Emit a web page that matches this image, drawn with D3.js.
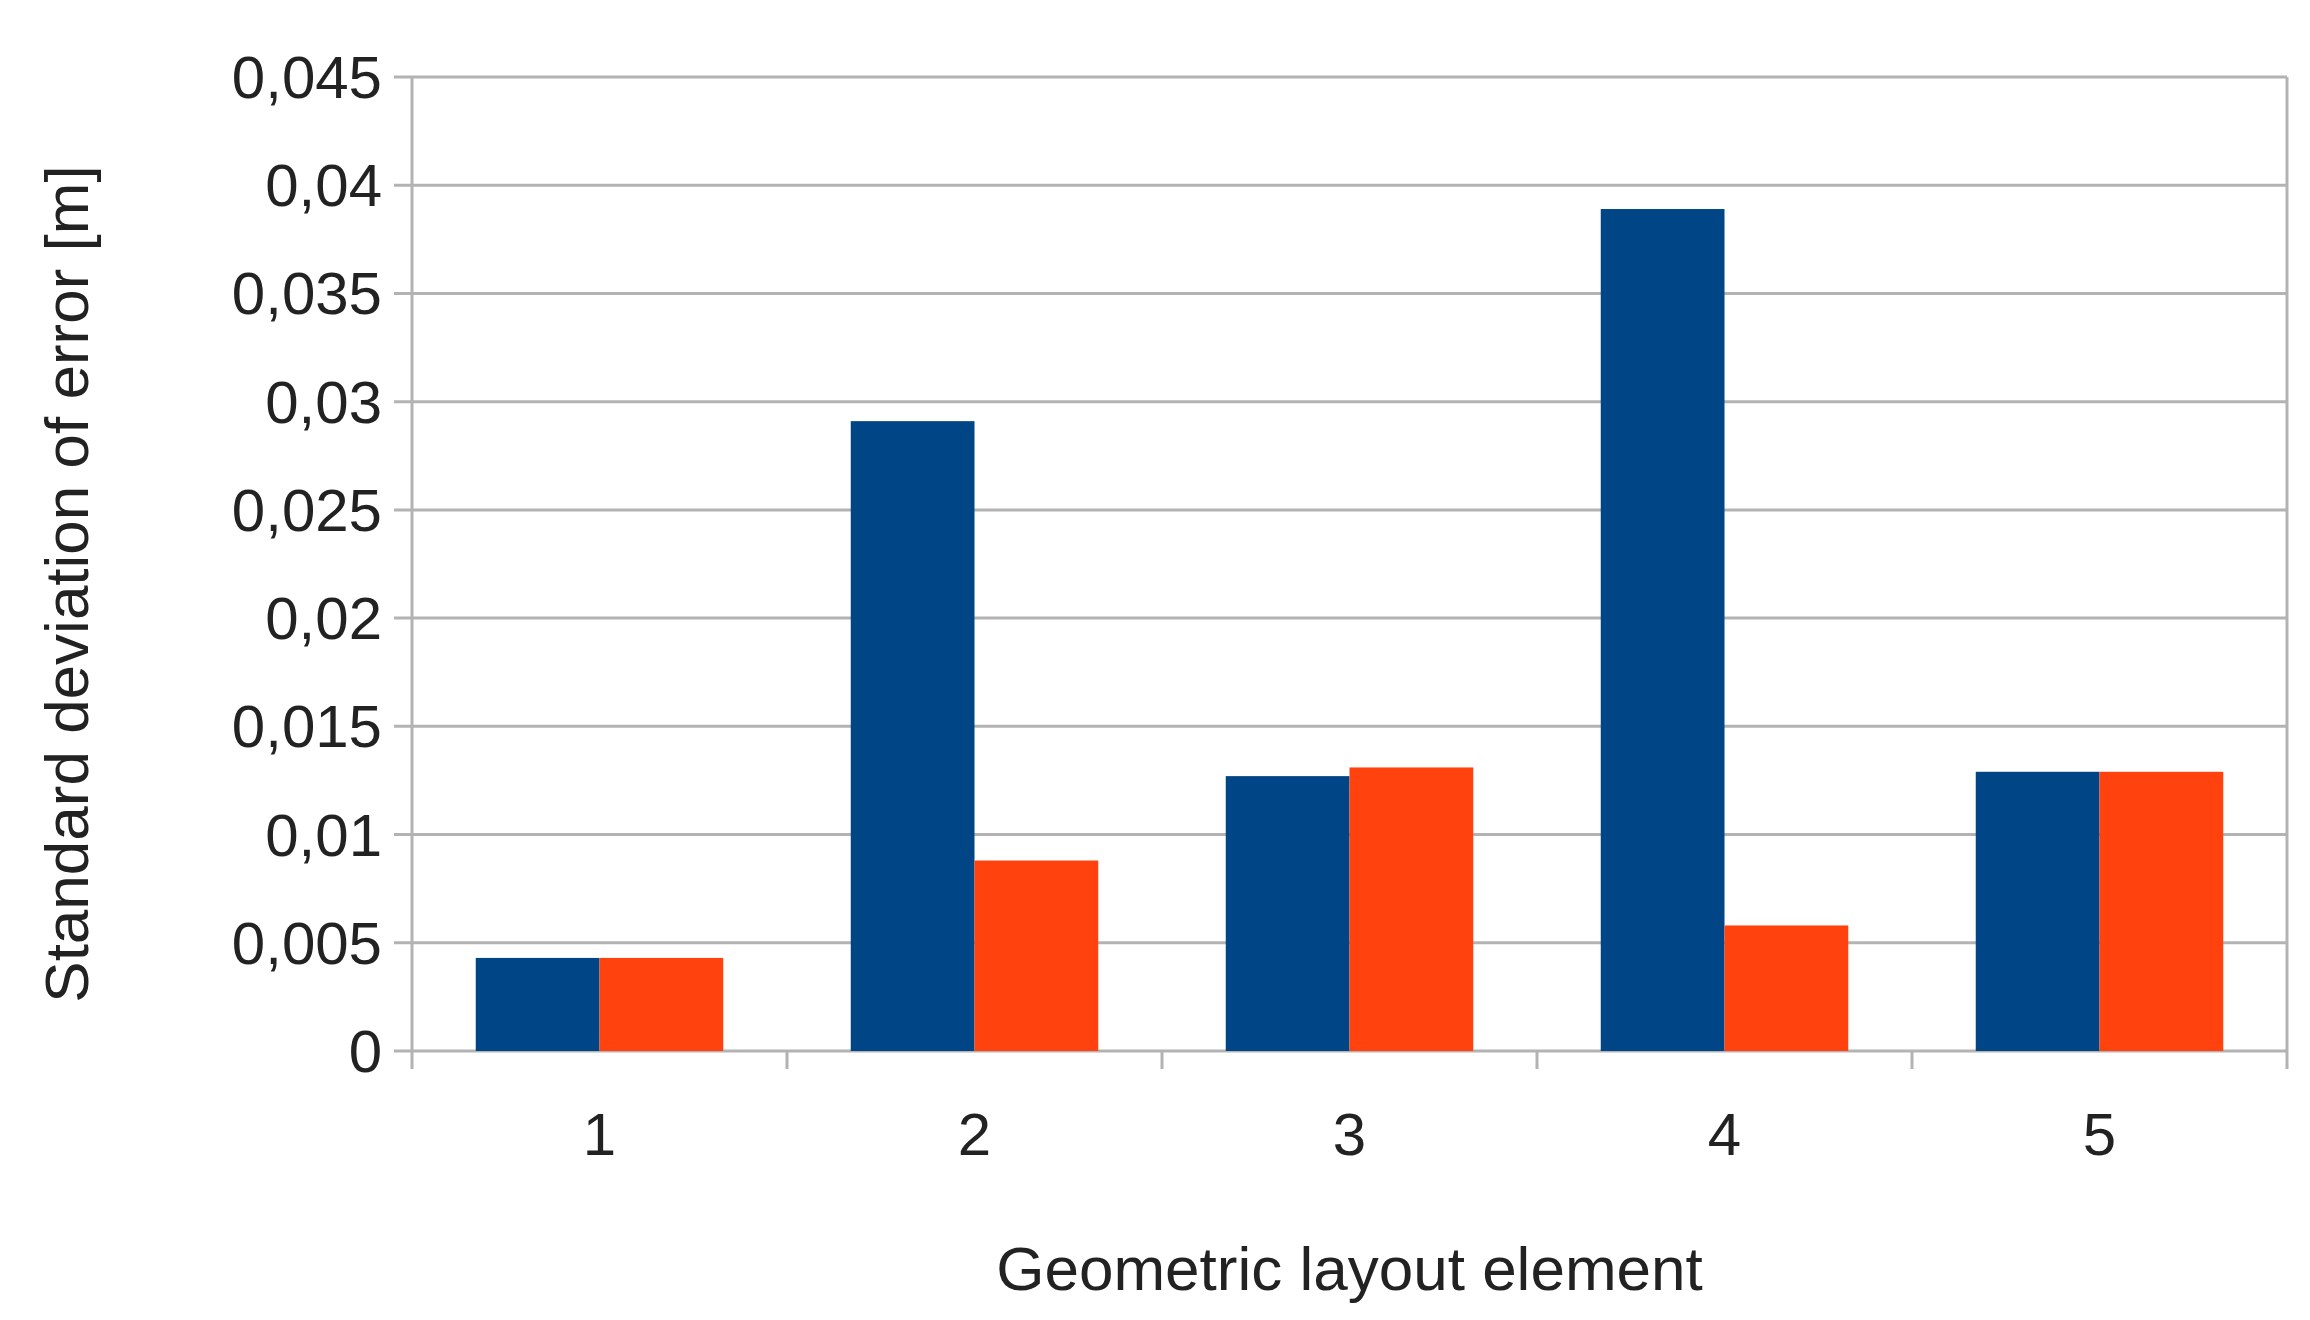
<!DOCTYPE html><html><head><meta charset="utf-8">
<script src="https://cdn.jsdelivr.net/npm/d3@7"></script>
<style>body{margin:0;background:#fff}</style></head><body>
<svg id="c" width="2310" height="1320"></svg>
<script>
const categories=["1","2","3","4","5"];
const seriesA=[0.0043,0.0291,0.0127,0.0389,0.0129];
const seriesB=[0.0043,0.0088,0.0131,0.0058,0.0129];
const yTicks=[0,0.005,0.01,0.015,0.02,0.025,0.03,0.035,0.04,0.045];
const colors=["#004586","#ff420e"];
const svg=d3.select("#c");
const L=412,R=2287,T=77,B=1051,font="Liberation Sans, Arial, sans-serif";
const x=d3.scaleBand().domain(categories).range([L,R]).paddingInner(0.34).paddingOuter(0.17);
const y=d3.scaleLinear().domain([0,0.045]).range([B,T]);
const fmt=v=>v===0?"0":String(v).replace(".",",");
svg.append("g").selectAll("line").data(yTicks).join("line")
 .attr("x1",L-18).attr("x2",R).attr("y1",d=>y(d)).attr("y2",d=>y(d))
 .attr("stroke","#b3b3b3").attr("stroke-width",3);
svg.append("line").attr("x1",L).attr("x2",L).attr("y1",T).attr("y2",B+18).attr("stroke","#b3b3b3").attr("stroke-width",3);
svg.append("line").attr("x1",R).attr("x2",R).attr("y1",T).attr("y2",B+18).attr("stroke","#b3b3b3").attr("stroke-width",3);
const step=x.step();
svg.append("g").selectAll("line").data(d3.range(1,categories.length)).join("line")
 .attr("x1",d=>L+d*step).attr("x2",d=>L+d*step).attr("y1",B).attr("y2",B+18)
 .attr("stroke","#b3b3b3").attr("stroke-width",3);
const bw=x.bandwidth()/2;
[seriesA,seriesB].forEach((s,i)=>{
 svg.append("g").selectAll("rect").data(s).join("rect")
  .attr("x",(d,j)=>x(categories[j])+i*bw).attr("width",bw)
  .attr("y",d=>y(d)).attr("height",d=>B-y(d)).attr("fill",colors[i]);
});
svg.append("g").selectAll("text").data(yTicks).join("text")
 .attr("x",L-30).attr("y",d=>y(d)).attr("dy","0.35em").attr("text-anchor","end")
 .attr("font-family",font).attr("font-size",60).attr("fill","#222").text(fmt);
svg.append("g").selectAll("text").data(categories).join("text")
 .attr("x",d=>x(d)+x.bandwidth()/2).attr("y",1155).attr("text-anchor","middle")
 .attr("font-family",font).attr("font-size",60).attr("fill","#222").text(d=>d);
svg.append("text").attr("x",(L+R)/2).attr("y",1290).attr("text-anchor","middle")
 .attr("font-family",font).attr("font-size",62).attr("fill","#222").text("Geometric layout element");
svg.append("text").attr("transform","translate(88,"+((T+B)/2+20)+") rotate(-90)").attr("text-anchor","middle")
 .attr("font-family",font).attr("font-size",62).attr("fill","#222").text("Standard deviation of error [m]");
</script></body></html>
